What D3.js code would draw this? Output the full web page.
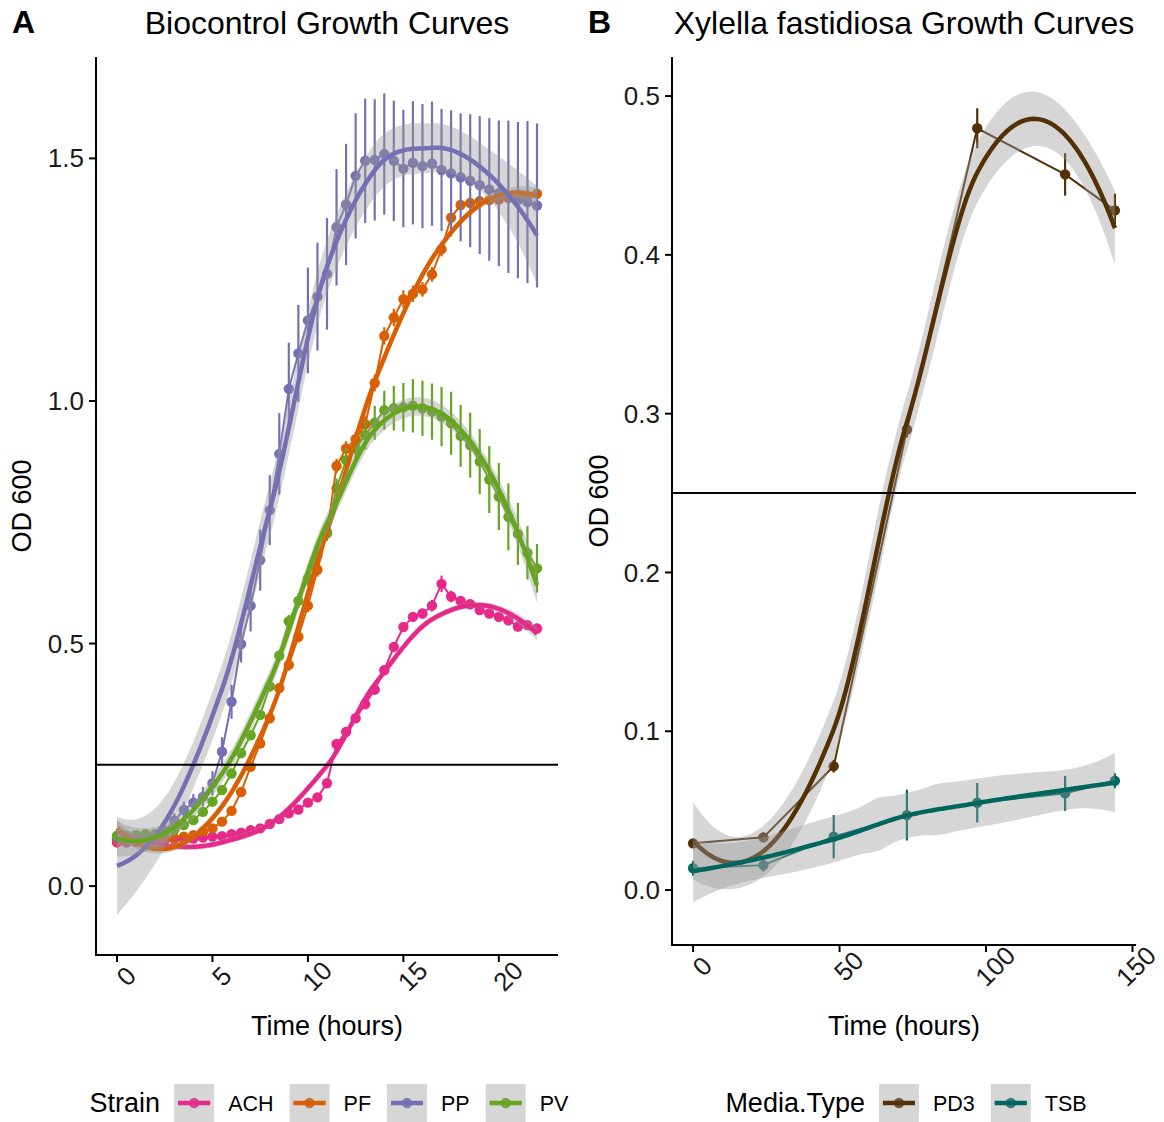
<!DOCTYPE html>
<html><head><meta charset="utf-8">
<script src="https://cdn.jsdelivr.net/npm/d3@7"></script>
<style>
body{margin:0;background:#fff}
svg text{font-family:"Liberation Sans",Arial,Helvetica,sans-serif}
</style>
</head><body>
<svg id="c" width="1164" height="1122"></svg>
<script>
// ---------------- DATA ----------------
// Panel A: time (hours)
const hoursA = [0,0.5,1,1.5,2,2.5,3,3.5,4,4.5,5,5.5,6,6.5,7,7.5,8,8.5,9,9.5,10,10.5,11,11.5,12,12.5,13,13.5,14,14.5,15,15.5,16,16.5,17,17.5,18,18.5,19,19.5,20,20.5,21,21.5,22];
const strainNames = ["ACH","PF","PP","PV"];
const strainColors = ["#E7298A","#D95F02","#7570B3","#66A61E"];

const odACH = [0.090,0.090,0.091,0.092,0.094,0.096,0.097,0.097,0.098,0.100,0.102,0.103,0.107,0.110,0.115,0.119,0.128,0.138,0.150,0.158,0.172,0.183,0.212,0.293,0.318,0.346,0.375,0.405,0.445,0.493,0.534,0.555,0.562,0.578,0.623,0.597,0.588,0.581,0.569,0.562,0.555,0.548,0.535,0.538,0.531];
const errACH = [0.004,0.004,0.004,0.004,0.004,0.004,0.004,0.004,0.004,0.004,0.004,0.004,0.005,0.005,0.005,0.005,0.005,0.006,0.006,0.006,0.006,0.007,0.008,0.008,0.008,0.009,0.009,0.010,0.010,0.010,0.010,0.010,0.010,0.012,0.017,0.012,0.010,0.010,0.010,0.010,0.010,0.010,0.010,0.010,0.010];

const odPF = [0.096,0.094,0.094,0.096,0.096,0.097,0.099,0.102,0.105,0.112,0.119,0.133,0.155,0.194,0.246,0.294,0.346,0.408,0.456,0.514,0.578,0.652,0.727,0.866,0.902,0.921,0.952,1.037,1.134,1.172,1.210,1.221,1.230,1.261,1.313,1.378,1.404,1.408,1.412,1.414,1.415,1.418,1.420,1.423,1.427];
const errPF = [0.004,0.004,0.004,0.004,0.004,0.004,0.004,0.004,0.004,0.004,0.005,0.005,0.006,0.007,0.008,0.009,0.010,0.010,0.012,0.012,0.013,0.014,0.015,0.015,0.015,0.016,0.016,0.017,0.018,0.018,0.018,0.017,0.015,0.015,0.015,0.012,0.010,0.010,0.010,0.010,0.010,0.010,0.010,0.010,0.010];

const odPP = [0.100,0.100,0.100,0.101,0.104,0.113,0.135,0.157,0.172,0.184,0.212,0.277,0.380,0.499,0.578,0.672,0.775,0.891,1.025,1.098,1.166,1.215,1.262,1.358,1.405,1.464,1.495,1.497,1.509,1.495,1.479,1.491,1.484,1.489,1.476,1.469,1.461,1.454,1.445,1.436,1.428,1.421,1.414,1.410,1.403];
const errPP = [0.010,0.010,0.010,0.010,0.012,0.013,0.015,0.017,0.018,0.020,0.025,0.030,0.035,0.038,0.053,0.063,0.072,0.084,0.095,0.100,0.109,0.111,0.115,0.120,0.125,0.129,0.128,0.125,0.125,0.124,0.121,0.127,0.128,0.128,0.126,0.130,0.132,0.137,0.142,0.147,0.150,0.157,0.161,0.167,0.169];

const odPV = [0.104,0.104,0.105,0.107,0.107,0.109,0.116,0.126,0.136,0.153,0.174,0.198,0.232,0.274,0.311,0.353,0.412,0.475,0.546,0.588,0.634,0.682,0.730,0.820,0.878,0.902,0.930,0.955,0.981,0.985,0.987,0.990,0.985,0.978,0.968,0.954,0.928,0.909,0.875,0.838,0.803,0.761,0.726,0.687,0.655];
const errPV = [0.005,0.005,0.005,0.005,0.005,0.005,0.005,0.005,0.005,0.005,0.006,0.006,0.007,0.008,0.009,0.010,0.011,0.012,0.013,0.015,0.016,0.017,0.018,0.020,0.025,0.030,0.030,0.035,0.040,0.046,0.050,0.055,0.057,0.058,0.061,0.065,0.064,0.067,0.067,0.069,0.069,0.069,0.064,0.055,0.050];

// Panel B
const hoursB = [0,24,48,73,97,127,144];
const mediaNames = ["PD3","TSB"];
const mediaColors = ["#543005","#01665E"];
const odPD3 = [0.0294,0.0332,0.0780,0.2900,0.4797,0.4507,0.4280];
const errPD3 = [0.0020,0.0030,0.0040,0.0050,0.0126,0.0134,0.0105];
const odTSB = [0.0137,0.0157,0.0336,0.0472,0.0550,0.0609,0.0688];
const errTSB = [0.0047,0.0040,0.0136,0.0160,0.0124,0.0110,0.0047];

const ticksXA = [0,5,10,15,20];
const ticksYA = [0,0.5,1.0,1.5];
const ticksXB = [0,50,100,150];
const ticksYB = [0,0.1,0.2,0.3,0.4,0.5];
const thresholdOD = 0.25;

// ---------------- LOESS (local quadratic, tricube, span 0.75, kd-tree + cubic Hermite surface) ----------------
const REPS = 4;      // replicate wells per time point (bars taken as s.e.)
const SPAN = 0.75;
function inv3(m){
  const [a,b,c] = m[0], [d,e,f] = m[1], [g,h,k] = m[2];
  const A = e*k - f*h, B = -(d*k - f*g), C = d*h - e*g;
  const det = a*A + b*B + c*C;
  return [
    [A/det, -(b*k - c*h)/det, (b*f - c*e)/det],
    [B/det, (a*k - c*g)/det, -(a*f - c*d)/det],
    [C/det, -(a*h - b*g)/det, (a*e - b*d)/det]
  ];
}
function tq975(df){ const z = 1.959964; return z + (z**3+z)/(4*df) + (5*z**5+16*z**3+3*z)/(96*df*df); }
function makeLoess(xs, ys, es){
  const n = xs.length, N = n*REPS, q = Math.floor(N*SPAN);
  function rows(x0){
    const d = xs.map(x => Math.abs(x - x0));
    const s = [...d].sort((a,b)=>a-b);
    let h = s[Math.ceil(q/REPS)-1] * Math.max(1, SPAN);
    if (h <= 0) h = 1e-9;
    const w = d.map(di => { const u = di/h; return u < 1 ? Math.pow(1 - u*u*u, 3) : 0; });
    const X = xs.map(x => { const t = (x - x0)/h; return [1, t, t*t]; });
    const M = [[0,0,0],[0,0,0],[0,0,0]];
    for (let i=0;i<n;i++) for (let a=0;a<3;a++) for (let b=0;b<3;b++) M[a][b] += w[i]*X[i][a]*X[i][b];
    const iv = inv3(M);
    const l0 = X.map((r,i)=> w[i]*(iv[0][0]*r[0]+iv[0][1]*r[1]+iv[0][2]*r[2]));
    const l1 = X.map((r,i)=> w[i]*(iv[1][0]*r[0]+iv[1][1]*r[1]+iv[1][2]*r[2])/h);
    return {l0, l1};
  }
  // kd tree on raw (replicated) design points
  const xr = [];
  xs.forEach(x => { for (let r=0;r<REPS;r++) xr.push(x); });
  xr.sort((a,b)=>a-b);
  const xmin = xr[0], xmax = xr[xr.length-1], mu = 0.005*(xmax-xmin);
  const fc = Math.floor(N*SPAN*0.2);
  const leaves = [];
  (function build(l,u,lo,hi){
    if (u-l+1 <= fc){ leaves.push([lo,hi]); return; }
    let m = Math.floor((l+u)/2);
    while (m >= 2 && xr[m-2] === xr[m-1]) m--;
    const sv = xr[m-1];
    if (sv === lo || sv === hi){ leaves.push([lo,hi]); return; }
    build(l, m, lo, sv); build(m+1, u, sv, hi);
  })(1, xr.length, xmin-mu, xmax+mu);
  const vcache = new Map();
  const vrows = v => { if (!vcache.has(v)) vcache.set(v, rows(v)); return vcache.get(v); };
  function interpRow(x){
    let leaf = leaves.find(c => x >= c[0] && x <= c[1]) || leaves[leaves.length-1];
    const [a,b] = leaf, hl = b-a, t = (x-a)/hl;
    const h00 = 2*t**3-3*t**2+1, h10 = t**3-2*t**2+t, h01 = -2*t**3+3*t**2, h11 = t**3-t**2;
    const A = vrows(a), B = vrows(b);
    return xs.map((_,j)=> h00*A.l0[j] + h10*hl*A.l1[j] + h01*B.l0[j] + h11*hl*B.l1[j]);
  }
  const L = xs.map(x => interpRow(x));
  let trL = 0, trLL = 0, rss = 0;
  for (let i=0;i<n;i++){
    trL += L[i][i];
    let fi = 0;
    for (let j=0;j<n;j++){ trLL += L[i][j]**2; fi += L[i][j]*ys[j]; }
    rss += (ys[i]-fi)**2;
  }
  const within = es.reduce((s,e)=> s + (REPS-1)*REPS*e*e, 0);
  const delta1 = N - 2*trL + trLL;
  const sigma = Math.sqrt((REPS*rss + within)/delta1);
  const tq = tq975(delta1);
  return function(x){
    const fit = d3.sum(interpRow(x).map((li,j)=>li*ys[j]));
    const l = rows(x).l0;
    const se = sigma*Math.sqrt(d3.sum(l.map(v=>v*v)))/Math.sqrt(REPS);
    return {x, fit, lo: fit - tq*se, hi: fit + tq*se};
  };
}
function smoothSeries(xs, ys, es, nGrid){
  const f = makeLoess(xs, ys, es);
  const x0 = d3.min(xs), x1 = d3.max(xs);
  return d3.range(nGrid+1).map(k => f(x0 + (x1-x0)*k/nGrid));
}

// ---------------- DRAW ----------------
const svg = d3.select("#c");
const FS_TICK = 26, FS_AXT = 27, FS_TITLE = 32, FS_LEG = 21.5;

const panels = [
  { tag:"A", title:"Biocontrol Growth Curves", legendTitle:"Strain",
    x: d3.scaleLinear().domain([-1.1, 23.1]).range([96, 558]),
    y: d3.scaleLinear().domain([-0.142, 1.709]).range([955, 57]),
    xTicks: ticksXA, yTicks: ticksYA,
    series: strainNames.map((nm,i)=>({name:nm, color:strainColors[i], t:hoursA,
      y:[odACH,odPF,odPP,odPV][i], e:[errACH,errPF,errPP,errPV][i]})),
    tagX: 12, ylabX: 31 },
  { tag:"B", title:"Xylella fastidiosa Growth Curves", legendTitle:"Media.Type",
    x: d3.scaleLinear().domain([-7.2, 151.2]).range([672, 1136]),
    y: d3.scaleLinear().domain([-0.0346, 0.5246]).range([945, 57]),
    xTicks: ticksXB, yTicks: ticksYB,
    series: mediaNames.map((nm,i)=>({name:nm, color:mediaColors[i], t:hoursB,
      y:[odPD3,odTSB][i], e:[errPD3,errTSB][i]})),
    tagX: 588, ylabX: 608 }
];

panels.forEach((p, pi) => {
  const [x0,x1] = p.x.range(), [yb,yt] = p.y.range();
  const g = svg.append("g");
  const clipId = "clip"+pi;
  svg.append("clipPath").attr("id",clipId).append("rect")
    .attr("x",x0).attr("y",yt).attr("width",x1-x0).attr("height",yb-yt);
  const data = g.append("g").attr("clip-path",`url(#${clipId})`);

  // points
  p.series.forEach(s => {
    data.append("g").selectAll("circle").data(s.t.map((t,i)=>({t, v:s.y[i]})))
      .join("circle").attr("cx",d=>p.x(d.t)).attr("cy",d=>p.y(d.v)).attr("r",5.2).attr("fill",s.color);
  });
  // thin connecting lines
  p.series.forEach(s => {
    data.append("path").datum(s.t.map((t,i)=>({t, v:s.y[i]})))
      .attr("d", d3.line().x(d=>p.x(d.t)).y(d=>p.y(d.v)))
      .attr("fill","none").attr("stroke",s.color).attr("stroke-width",2);
  });
  // error bars
  p.series.forEach(s => {
    data.append("g").selectAll("line").data(s.t.map((t,i)=>({t, v:s.y[i], e:s.e[i]})))
      .join("line").attr("x1",d=>p.x(d.t)).attr("x2",d=>p.x(d.t))
      .attr("y1",d=>p.y(d.v-d.e)).attr("y2",d=>p.y(d.v+d.e))
      .attr("stroke",s.color).attr("stroke-width",2.2);
  });
  // smooths (ribbon + line per group)
  p.series.forEach(s => {
    const sm = smoothSeries(s.t, s.y, s.e, 160);
    data.append("path").datum(sm)
      .attr("d", d3.area().x(d=>p.x(d.x)).y0(d=>p.y(d.lo)).y1(d=>p.y(d.hi)))
      .attr("fill","#999999").attr("fill-opacity",0.4);
    data.append("path").datum(sm)
      .attr("d", d3.line().x(d=>p.x(d.x)).y(d=>p.y(d.fit)))
      .attr("fill","none").attr("stroke",s.color).attr("stroke-width",4.5);
  });
  // threshold line
  data.append("line").attr("x1",x0).attr("x2",x1)
    .attr("y1",p.y(thresholdOD)).attr("y2",p.y(thresholdOD))
    .attr("stroke","#000").attr("stroke-width",2);

  // axes
  const ax = g.append("g");
  ax.append("line").attr("x1",x0).attr("x2",x0).attr("y1",yt).attr("y2",yb+1).attr("stroke","#000").attr("stroke-width",2);
  ax.append("line").attr("x1",x0-1).attr("x2",x1).attr("y1",yb).attr("y2",yb).attr("stroke","#000").attr("stroke-width",2);
  p.yTicks.forEach(v => {
    ax.append("line").attr("x1",x0-7).attr("x2",x0).attr("y1",p.y(v)).attr("y2",p.y(v)).attr("stroke","#000").attr("stroke-width",2);
    ax.append("text").attr("x",x0-12).attr("y",p.y(v)).attr("dy","0.35em")
      .attr("text-anchor","end").attr("font-size",FS_TICK).attr("fill","#1a1a1a").text(d3.format(".1f")(v));
  });
  p.xTicks.forEach(v => {
    ax.append("line").attr("x1",p.x(v)).attr("x2",p.x(v)).attr("y1",yb).attr("y2",yb+7).attr("stroke","#000").attr("stroke-width",2);
    const lab = ax.append("g").attr("transform",`translate(${p.x(v)},${yb+12}) rotate(-45)`);
    lab.append("text").attr("x",0).attr("y",22).attr("text-anchor","middle")
      .attr("font-size",FS_TICK).attr("fill","#1a1a1a").text(v);
    // keep the label inside the canvas
    const bb = lab.node().getBoundingClientRect();
    if (bb.right > 1162) lab.attr("transform",`translate(${p.x(v) - (bb.right-1162)},${yb+12}) rotate(-45)`);
  });
  const cx = (x0+x1)/2;
  g.append("text").attr("x",cx).attr("y",1035).attr("text-anchor","middle").attr("font-size",FS_AXT).text("Time (hours)");
  g.append("text").attr("transform",`translate(${p.ylabX},${(yb+yt)/2}) rotate(-90)`)
    .attr("text-anchor","middle").attr("font-size",FS_AXT).text("OD 600");
  g.append("text").attr("x",cx).attr("y",34).attr("text-anchor","middle").attr("font-size",FS_TITLE).text(p.title);
  g.append("text").attr("x",p.tagX).attr("y",33).attr("font-size",FS_TITLE).attr("font-weight","bold").text(p.tag);

  // legend
  const lg = g.append("g");
  const ly = 1103;
  const tTitle = lg.append("text").attr("x",0).attr("y",ly).attr("dy","0.35em").attr("font-size",FS_AXT).text(p.legendTitle);
  let cur = tTitle.node().getComputedTextLength() + 14;
  p.series.forEach(s => {
    const k = lg.append("g").attr("transform",`translate(${cur},${ly-19})`);
    k.append("rect").attr("width",40).attr("height",38).attr("fill","#fff");
    k.append("circle").attr("cx",20).attr("cy",19).attr("r",5.2).attr("fill",s.color);
    k.append("line").attr("x1",4).attr("x2",36).attr("y1",19).attr("y2",19).attr("stroke",s.color).attr("stroke-width",2);
    k.append("rect").attr("width",40).attr("height",38).attr("fill","#999999").attr("fill-opacity",0.4);
    k.append("line").attr("x1",4).attr("x2",36).attr("y1",19).attr("y2",19).attr("stroke",s.color).attr("stroke-width",4.5);
    cur += 40 + 14;
    const t = lg.append("text").attr("x",cur).attr("y",ly).attr("dy","0.35em").attr("font-size",FS_LEG).text(s.name);
    cur += t.node().getComputedTextLength() + 16;
  });
  const total = cur - 16;
  lg.attr("transform",`translate(${cx - total/2 + 2},0)`);
});
</script>
</body></html>
